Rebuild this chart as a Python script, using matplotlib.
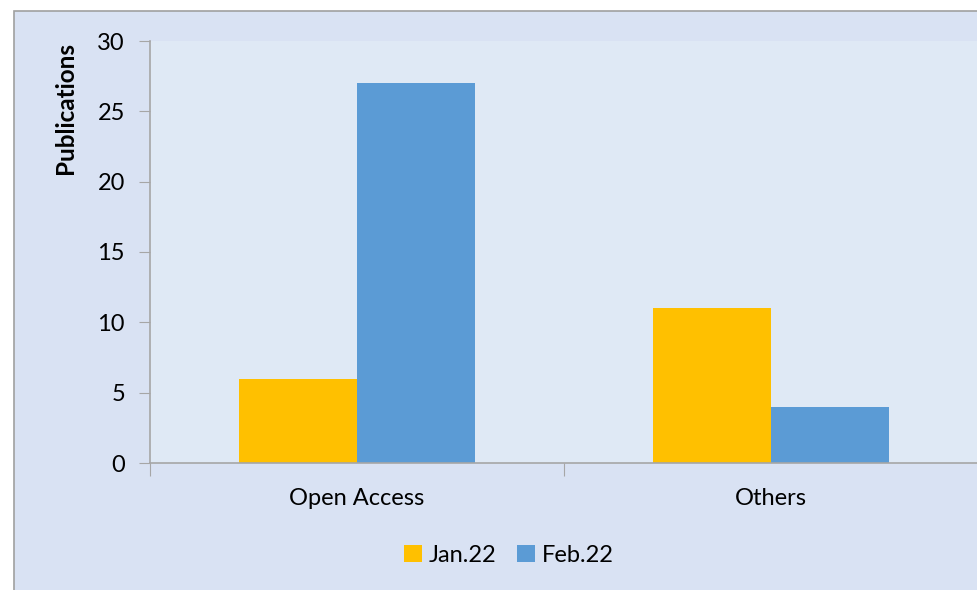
import matplotlib
matplotlib.use("Agg")
import matplotlib.pyplot as plt
from matplotlib.patches import Rectangle
import numpy as np

categories = ["Open Access", "Others"]
series_names = ["Jan.22", "Feb.22"]
jan = [6, 11]
feb = [27, 4]
yticks = [0, 5, 10, 15, 20, 25, 30]

W, H = 978, 590
fig = plt.figure(figsize=(W/100, H/100), dpi=100)
fig.patch.set_facecolor("white")
plt.rcParams['font.family'] = ['Lato', 'DejaVu Sans']

# outer chart area with border
fig.patches.append(Rectangle((14/W, -0.1), 1.2, 1 - 11/H + 0.1, transform=fig.transFigure,
                             facecolor="#d9e2f3", edgecolor="#a0a0a0", linewidth=1.2, zorder=-10))

ax = fig.add_axes([150/W, 1 - 463/H, 1 - 150/W, (463 - 41)/H])
ax.set_facecolor("#dfe9f5")
x = np.arange(len(categories))
w = 0.285
ax.bar(x - w/2, jan, w, color="#ffc000", label=series_names[0], zorder=2)
ax.bar(x + w/2, feb, w, color="#5b9bd5", label=series_names[1], zorder=2)
ax.set_xlim(-0.5, len(categories) - 0.5)
ax.set_ylim(0, 30)
ax.set_yticks(yticks)
ax.set_yticklabels([str(v) for v in yticks], fontsize=17)
ax.set_xticks([-0.5, 0.5, 1.5])
ax.set_xticklabels([])
ax.set_xticks(x, minor=True)
ax.set_xticklabels(categories, minor=True, fontsize=17)
ax.tick_params(axis='x', which='minor', length=0, pad=18)
ax.tick_params(axis='x', which='major', length=9, color="#a6a6a6", direction='out')
ax.tick_params(axis='y', length=8, color="#a6a6a6", direction='out', pad=10)
for s in ["top", "right"]:
    ax.spines[s].set_visible(False)
for s in ["left", "bottom"]:
    ax.spines[s].set_color("#a6a6a6")
    ax.spines[s].set_linewidth(1.2)

fig.text(66/W, 1 - 108/H, "Publications", rotation=90, ha="center", va="center",
         fontsize=17.5, fontweight="bold")

leg = fig.legend(loc="center", bbox_to_anchor=(509/W, 1 - 555/H), ncol=2, frameon=False,
                 fontsize=17, handlelength=0.75, handleheight=0.75, handletextpad=0.3,
                 columnspacing=0.9)

fig.savefig("out.png", dpi=100)
